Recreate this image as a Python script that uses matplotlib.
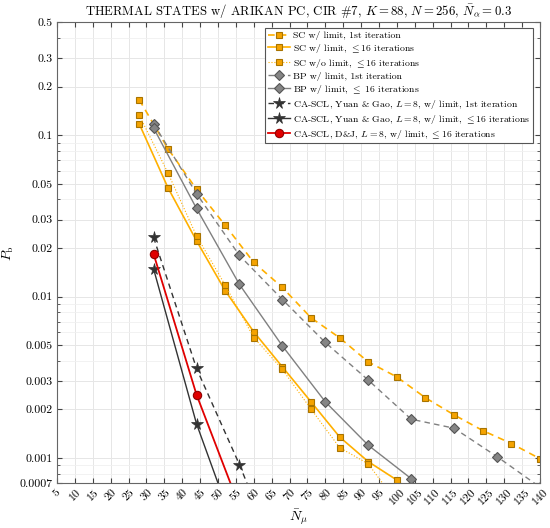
import matplotlib
matplotlib.use("Agg")
import matplotlib.pyplot as plt
import numpy as np

plt.rcParams['font.family'] = ['cmr10', 'DejaVu Serif']
plt.rcParams['mathtext.fontset'] = 'cm'
plt.rcParams['axes.formatter.use_mathtext'] = True

# SC (orange squares)
x_sc1 = [28, 36, 44, 52, 60, 68, 76, 84, 92, 100, 108, 116, 124, 132, 140]
y_sc1 = [0.166, 0.0827, 0.0463, 0.0277, 0.0163, 0.0114, 0.0074, 0.00556, 0.00394,
         0.00318, 0.00236, 0.00185, 0.00148, 0.00123, 0.00099]
x_sc16 = [28, 36, 44, 52, 60, 68, 76, 84, 92, 100, 108]
y_sc16 = [0.1175, 0.0474, 0.0222, 0.0109, 0.00605, 0.00367, 0.00223, 0.00135, 0.00095,
          0.00073, 0.0005]
x_scnl = [28, 36, 44, 52, 60, 68, 76, 84, 92, 100]
y_scnl = [0.133, 0.0585, 0.0238, 0.0118, 0.00558, 0.00354, 0.00201, 0.00116, 0.00092,
          0.00053]

# BP (gray diamonds)
x_bp1 = [32, 44, 56, 68, 80, 92, 104, 116, 128, 140]
y_bp1 = [0.118, 0.0435, 0.018, 0.0096, 0.0052, 0.00304, 0.00174, 0.00153, 0.00102, 0.00066]
x_bp16 = [32, 44, 56, 68, 80, 92, 104]
y_bp16 = [0.111, 0.0352, 0.0119, 0.00495, 0.00223, 0.0012, 0.000745]

# CA-SCL
x_yg1 = [32, 44, 56, 68]
y_yg1 = [0.0233, 0.00359, 0.00091, 0.0002]
x_yg16 = [32, 44, 56]
y_yg16 = [0.01486, 0.00163, 0.0003]
x_dj = [32, 44, 56]
y_dj = [0.0184, 0.00247, 0.0005]

labels = [
    'SC w/ limit, 1st iteration',
    r'SC w/ limit, $\leq$16 iterations',
    r'SC w/o limit, $\leq$16 iterations',
    'BP w/ limit, 1st iteration',
    r'BP w/ limit, $\leq$ 16 iterations',
    r'CA-SCL, Yuan & Gao, $L=8$, w/ limit, 1st iteration',
    r'CA-SCL, Yuan & Gao, $L=8$, w/ limit, $\leq$16 iterations',
    r'CA-SCL, D&J, $L=8$, w/ limit, $\leq$16 iterations',
]

orange = '#FFB000'
sq = dict(marker='s', ms=5, mfc='#F5A300', mec='#A87400', mew=0.8)
dia = dict(marker='D', ms=5, mfc='#858585', mec='#555555', mew=0.8)
star = dict(marker='*', ms=8.5, mfc='#333333', mec='#333333', mew=0.5)

fig = plt.figure(figsize=(5.5, 5.28), dpi=100)
ax = fig.add_axes([0.1036, 0.0852, 0.8782, 0.8722])

ax.plot(x_sc1, y_sc1, ls=(0, (4, 3)), color=orange, lw=1.2, label=labels[0], **sq)
ax.plot(x_sc16, y_sc16, ls='-', color=orange, lw=1.2, label=labels[1], **sq)
ax.plot(x_scnl, y_scnl, ls=':', color=orange, lw=0.8, label=labels[2], **sq)
ax.plot(x_bp1, y_bp1, ls=(0, (4, 3)), color='#808080', lw=1.0, label=labels[3], **dia)
ax.plot(x_bp16, y_bp16, ls='-', color='#808080', lw=1.0, label=labels[4], **dia)
ax.plot(x_yg1, y_yg1, ls=(0, (4, 3)), color='#333333', lw=1.0, label=labels[5], **star)
ax.plot(x_yg16, y_yg16, ls='-', color='#333333', lw=1.0, label=labels[6], **star)
ax.plot(x_dj, y_dj, ls='-', color='#E00000', lw=1.3, marker='o', ms=6,
        mfc='#E00000', mec='#900000', mew=0.8, label=labels[7])

ax.set_yscale('log')
ax.set_xlim(5, 140)
ax.set_ylim(0.0007, 0.5)

xt = np.arange(5, 141, 5)
ax.set_xticks(xt)
ax.set_xticklabels([str(v) for v in xt], rotation=45, fontsize=8.5)
yt = [0.0007, 0.001, 0.002, 0.003, 0.005, 0.01, 0.02, 0.03, 0.05, 0.1, 0.2, 0.3, 0.5]
ax.set_yticks(yt)
ax.set_yticklabels([str(v) for v in yt], fontsize=8.5)
ax.tick_params(which='both', direction='in', top=True, right=True, color='#444444', pad=3)
ax.minorticks_on()
ax.set_xticks([], minor=True)
ax.grid(True, which='major', color='#e6e6e6', lw=0.7)
ax.grid(True, which='minor', color='#f0f0f0', lw=0.6)
ax.set_axisbelow(True)
for s in ax.spines.values():
    s.set_color('#666666')

ax.set_xlabel(r'$\bar{N}_\mu$', fontsize=10, labelpad=1)
ax.set_ylabel(r'$P_\mathrm{b}$', fontsize=10, labelpad=3)
ax.set_title(r'THERMAL STATES w/ ARIKAN PC, CIR #7, $K=88$, $N=256$, $\bar{N}_\alpha=0.3$',
             fontsize=9.2, pad=5)

leg = ax.legend(loc='upper right', bbox_to_anchor=(0.9855, 0.988), fontsize=7,
                fancybox=False, framealpha=1, edgecolor='#555555', handlelength=2.3,
                borderpad=0.3, labelspacing=0.2, handletextpad=0.3, borderaxespad=0)
leg.get_frame().set_linewidth(0.8)

fig.savefig('out.png', dpi=100)
